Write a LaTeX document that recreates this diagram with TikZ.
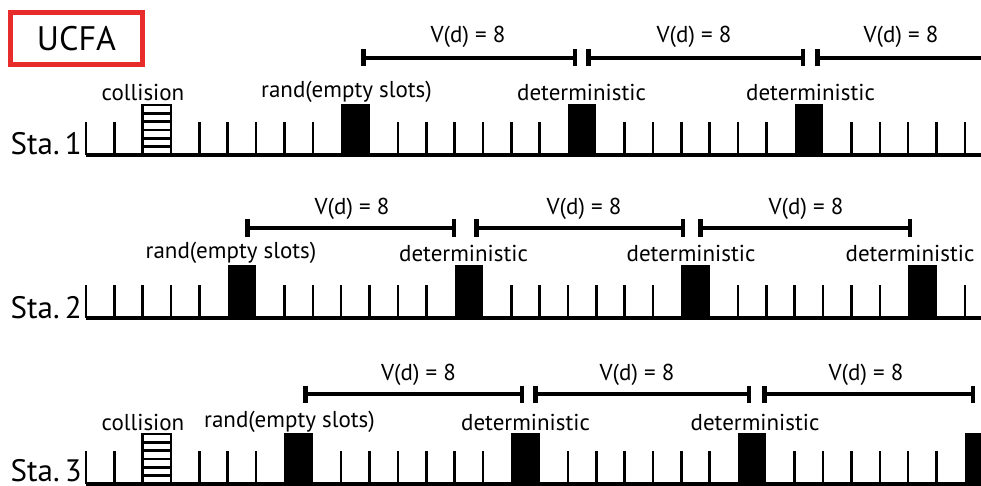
\documentclass[tikz,border=0pt]{standalone}
\usepackage{fontspec}
\setmainfont{PT Sans}
\usetikzlibrary{arrows.meta}
\definecolor{ucfared}{RGB}{232,44,44}
\tikzset{
  axisline/.style={line width=3.5pt},
  tickline/.style={line width=2.6pt},
  busyslot/.style={fill=black},
  hatchbox/.style={line width=2.8pt},
  hatchline/.style={line width=2.6pt},
  spanline/.style={line width=4.5pt, {Bar[width=17pt]}-{Bar[width=17pt]}},
  spanopen/.style={line width=4.5pt, {Bar[width=17pt]}-},
  lbl/.style={font=\fontsize{23}{27}\selectfont, inner sep=0pt},
  sta/.style={font=\fontsize{31}{35}\selectfont, inner sep=0pt, anchor=base east},
}
% slot geometry: slot boundaries at x = 86 + i*28.35
\newcommand{\sx}[1]{86+(#1)*28.35}
\begin{document}
\begin{tikzpicture}[x=1pt,y=-1pt]
\useasboundingbox (0,0) rectangle (981,486);
\fill[white] (0,0) rectangle (981,486);
\clip (0,0) rectangle (981,486);

% title box
\node[draw=ucfared, line width=5pt, minimum width=132pt, minimum height=52pt,
      font=\fontsize{34}{38}\selectfont, inner sep=0pt] (title) at (76.5,38.5) {UCFA};

% ---------- station 1 ----------
\def\yb{155}
\node[sta] (sta1) at (82,\yb) {Sta.\hspace{0.17em}1};
\draw[axisline] (86,\yb) -- (985,\yb);
\foreach \i in {0,1,4,5,6,7,8,11,12,13,14,15,16,19,20,21,22,23,24,27,28,29,30,31}
  \draw[tickline] ({\sx{\i}},\yb) -- ({\sx{\i}},\yb-33);
\draw[hatchbox] ({\sx{2}},\yb) rectangle ({\sx{3}},\yb-50);
\foreach \k in {1,...,5}
  \draw[hatchline] ({\sx{2}},\yb-\k*50/6) -- ({\sx{3}},\yb-\k*50/6);
\foreach \i in {9,17,25}
  \fill[busyslot] ({\sx{\i}},\yb) rectangle ({\sx{\i+1}},\yb-51);
\node[lbl] (c1) at (143,92) {collision};
\node[lbl] (r1) at (346.5,92) {rand(empty slots)};
\node[lbl] (d1a) at (581.5,92) {deterministic};
\node[lbl] (d1b) at (810.5,92) {deterministic};
\coordinate (p1a) at (361,58); \coordinate (q1a) at (577,58);
\coordinate (p1b) at (586,58); \coordinate (q1b) at (805,58);
\coordinate (p1c) at (815,58); \coordinate (q1c) at (990,58);
\draw[spanline] (p1a) -- (q1a);
\draw[spanline] (p1b) -- (q1b);
\draw[spanopen] (p1c) -- (q1c);
\node[lbl] (v1a) at (468,37) {V(d) = 8};
\node[lbl] (v1b) at (694,37) {V(d) = 8};
\node[lbl] (v1c) at (901,37) {V(d) = 8};

% ---------- station 2 ----------
\def\yb{318}
\node[sta] (sta2) at (82,\yb) {Sta.\hspace{0.17em}2};
\draw[axisline] (86,\yb) -- (985,\yb);
\foreach \i in {0,1,2,3,4,7,8,9,10,11,12,15,16,17,18,19,20,23,24,25,26,27,28,31}
  \draw[tickline] ({\sx{\i}},\yb) -- ({\sx{\i}},\yb-33);
\foreach \i in {5,13,21,29}
  \fill[busyslot] ({\sx{\i}},\yb) rectangle ({\sx{\i+1}},\yb-53);
\node[lbl] (r2) at (231,253) {rand(empty slots)};
\node[lbl] (d2a) at (463.5,253) {deterministic};
\node[lbl] (d2b) at (691,253) {deterministic};
\node[lbl] (d2c) at (910,253) {deterministic};
\coordinate (p2a) at (245,228); \coordinate (q2a) at (456,228);
\coordinate (p2b) at (474,228); \coordinate (q2b) at (685,228);
\coordinate (p2c) at (698,228); \coordinate (q2c) at (912,228);
\draw[spanline] (p2a) -- (q2a);
\draw[spanline] (p2b) -- (q2b);
\draw[spanline] (p2c) -- (q2c);
\node[lbl] (v2a) at (352,209) {V(d) = 8};
\node[lbl] (v2b) at (584,209) {V(d) = 8};
\node[lbl] (v2c) at (806,209) {V(d) = 8};

% ---------- station 3 ----------
\def\yb{484}
\node[sta] (sta3) at (82,481) {Sta.\hspace{0.17em}3};
\draw[axisline] (86,\yb) -- (985,\yb);
\foreach \i in {0,1,4,5,6,9,10,11,12,13,14,17,18,19,20,21,22,25,26,27,28,29,30}
  \draw[tickline] ({\sx{\i}},\yb) -- ({\sx{\i}},\yb-33);
\draw[hatchbox] ({\sx{2}},\yb) rectangle ({\sx{3}},\yb-50);
\foreach \k in {1,...,5}
  \draw[hatchline] ({\sx{2}},\yb-\k*50/6) -- ({\sx{3}},\yb-\k*50/6);
\foreach \i in {7,15,23,31}
  \fill[busyslot] ({\sx{\i}},\yb) rectangle ({\sx{\i+1}},\yb-51);
\node[lbl] (c3) at (143,422) {collision};
\node[lbl] (r3) at (289.5,422) {rand(empty slots)};
\node[lbl] (d3a) at (525.5,422) {deterministic};
\node[lbl] (d3b) at (755,422) {deterministic};
\coordinate (p3a) at (303,394); \coordinate (q3a) at (524,394);
\coordinate (p3b) at (533,394); \coordinate (q3b) at (751,394);
\coordinate (p3c) at (762,394); \coordinate (q3c) at (975,394);
\draw[spanline] (p3a) -- (q3a);
\draw[spanline] (p3b) -- (q3b);
\draw[spanline] (p3c) -- (q3c);
\node[lbl] (v3a) at (418.5,375) {V(d) = 8};
\node[lbl] (v3b) at (637,375) {V(d) = 8};
\node[lbl] (v3c) at (866,375) {V(d) = 8};
\end{tikzpicture}
\end{document}
